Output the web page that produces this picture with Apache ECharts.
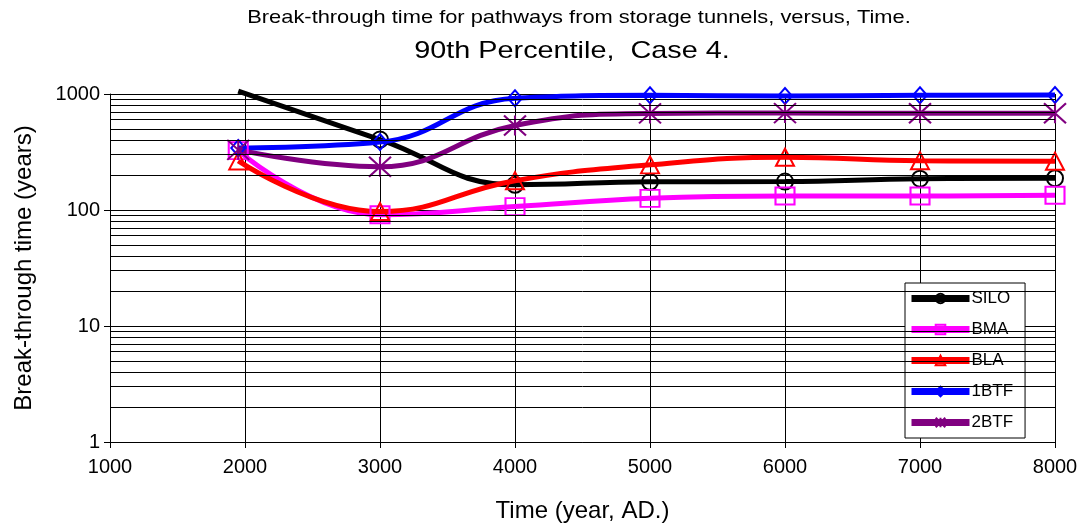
<!DOCTYPE html>
<html>
<head>
<meta charset="utf-8">
<script src="https://cdn.jsdelivr.net/npm/echarts@6/dist/echarts.min.js"></script>
<style>
html,body{margin:0;padding:0;background:#fff;}
#c{width:1086px;height:528px;}
</style>
</head>
<body>
<div id="c"></div>
<script>
// ---- data ----
const years = [1950, 3000, 4000, 5000, 6000, 7000, 8000];
const silo = [1060, 405, 165, 175, 176, 186, 188];
const bma  = [325, 91, 107, 126, 132, 132, 134];
const bla  = [265, 97, 179, 245, 285, 266, 263];
const btf1 = [343, 385, 920, 975, 960, 975, 980];
const btf2 = [330, 236, 535, 680, 685, 682, 683];
const seriesNames = ['SILO', 'BMA', 'BLA', '1BTF', '2BTF'];
const minorGridValues = [2,3,4,5,6,7,8,9,20,30,40,50,60,70,80,90,200,300,400,500,600,700,800,900];
const titleLine1 = 'Break-through time for pathways from storage tunnels, versus, Time.';
const titleLine2 = '90th Percentile,  Case 4.';
const xName = 'Time (year, AD.)';
const yName = 'Break-through time (years)';

const FONT = 'Liberation Sans, Arial, sans-serif';
const chart = echarts.init(document.getElementById('c'), null, {renderer: 'canvas'});

function pairs(vals) { return years.map((y, i) => [y, vals[i]]); }

function mkSeries(name, vals, color, symbol, size, extra) {
  return Object.assign({
    name: name,
    type: 'line',
    data: pairs(vals),
    smooth: 0.45,
    symbol: symbol,
    symbolSize: size,
    lineStyle: {color: color, width: 5},
    itemStyle: {color: 'rgba(0,0,0,0)', borderColor: color, borderWidth: 2},
    emphasis: {disabled: true},
    animation: false
  }, extra || {});
}

const siloData = pairs(silo).map((p, i) => i === 0 ? {value: p, symbol: 'none'} : p);

const option = {
  animation: false,
  textStyle: {fontFamily: FONT},
  grid: {left: 110, right: 31, top: 94, bottom: 86, containLabel: false},
  graphic: [
    {type: 'text', x: 579, y: 18, scaleX: 1.15, style: {text: titleLine1, font: '19px ' + FONT, fill: '#000', textAlign: 'center', textVerticalAlign: 'middle'}},
    {type: 'text', x: 572, y: 51, scaleX: 1.2, style: {text: titleLine2, font: '24px ' + FONT, fill: '#000', textAlign: 'center', textVerticalAlign: 'middle'}}
  ],
  legend: {
    orient: 'vertical',
    left: 905, top: 283,
    padding: [7, 12, 7, 3],
    itemWidth: 58, itemHeight: 12, itemGap: 14,
    backgroundColor: '#fff', borderColor: '#000', borderWidth: 1, borderRadius: 0,
    lineStyle: {width: 7},
    textStyle: {fontSize: 17, color: '#000', fontFamily: FONT, padding: [0, 0, 0, -3]},
    data: seriesNames
  },
  xAxis: {
    type: 'value', min: 1000, max: 8000, interval: 1000,
    name: xName, nameLocation: 'middle', nameGap: 57,
    nameTextStyle: {fontSize: 24, color: '#000', fontFamily: FONT},
    axisLine: {show: true, lineStyle: {color: '#000', width: 1}},
    axisTick: {show: true, length: 6, lineStyle: {color: '#000'}},
    axisLabel: {fontSize: 20, color: '#000', margin: 15, fontFamily: FONT, formatter: v => String(v)},
    splitLine: {show: true, lineStyle: {color: '#000', width: 1}}
  },
  yAxis: {
    type: 'log', logBase: 10, min: 1, max: 1000,
    name: yName, nameLocation: 'middle', nameGap: 74,
    nameTextStyle: {fontSize: 24, color: '#000', fontFamily: FONT},
    axisLine: {show: true, lineStyle: {color: '#000', width: 1}},
    axisTick: {show: true, length: 6, lineStyle: {color: '#000'}},
    axisLabel: {fontSize: 20, color: '#000', margin: 10, fontFamily: FONT, formatter: v => String(Math.round(v))},
    splitLine: {show: true, lineStyle: {color: '#000', width: 1}}
  },
  series: [
    Object.assign(mkSeries('SILO', silo, '#000000', 'circle', 16, {clip: false}), {
      data: siloData,
      z: 2,
      markLine: {
        silent: true, symbol: 'none', animation: false,
        label: {show: false},
        lineStyle: {color: '#000', width: 1, type: 'solid'},
        emphasis: {disabled: true},
        data: minorGridValues.map(v => ({yAxis: v}))
      }
    }),
    mkSeries('BMA', bma, '#ff00ff', 'rect', [19, 17]),
    mkSeries('BLA', bla, '#ff0000', 'triangle', [18, 17]),
    mkSeries('1BTF', btf1, '#0000ff', 'diamond', [14, 16]),
    mkSeries('2BTF', btf2, '#800080', 'path://M0,0L20,20M20,0L0,20M10,0L10,20', [22, 20])
  ]
};
chart.setOption(option);
</script>
</body>
</html>
